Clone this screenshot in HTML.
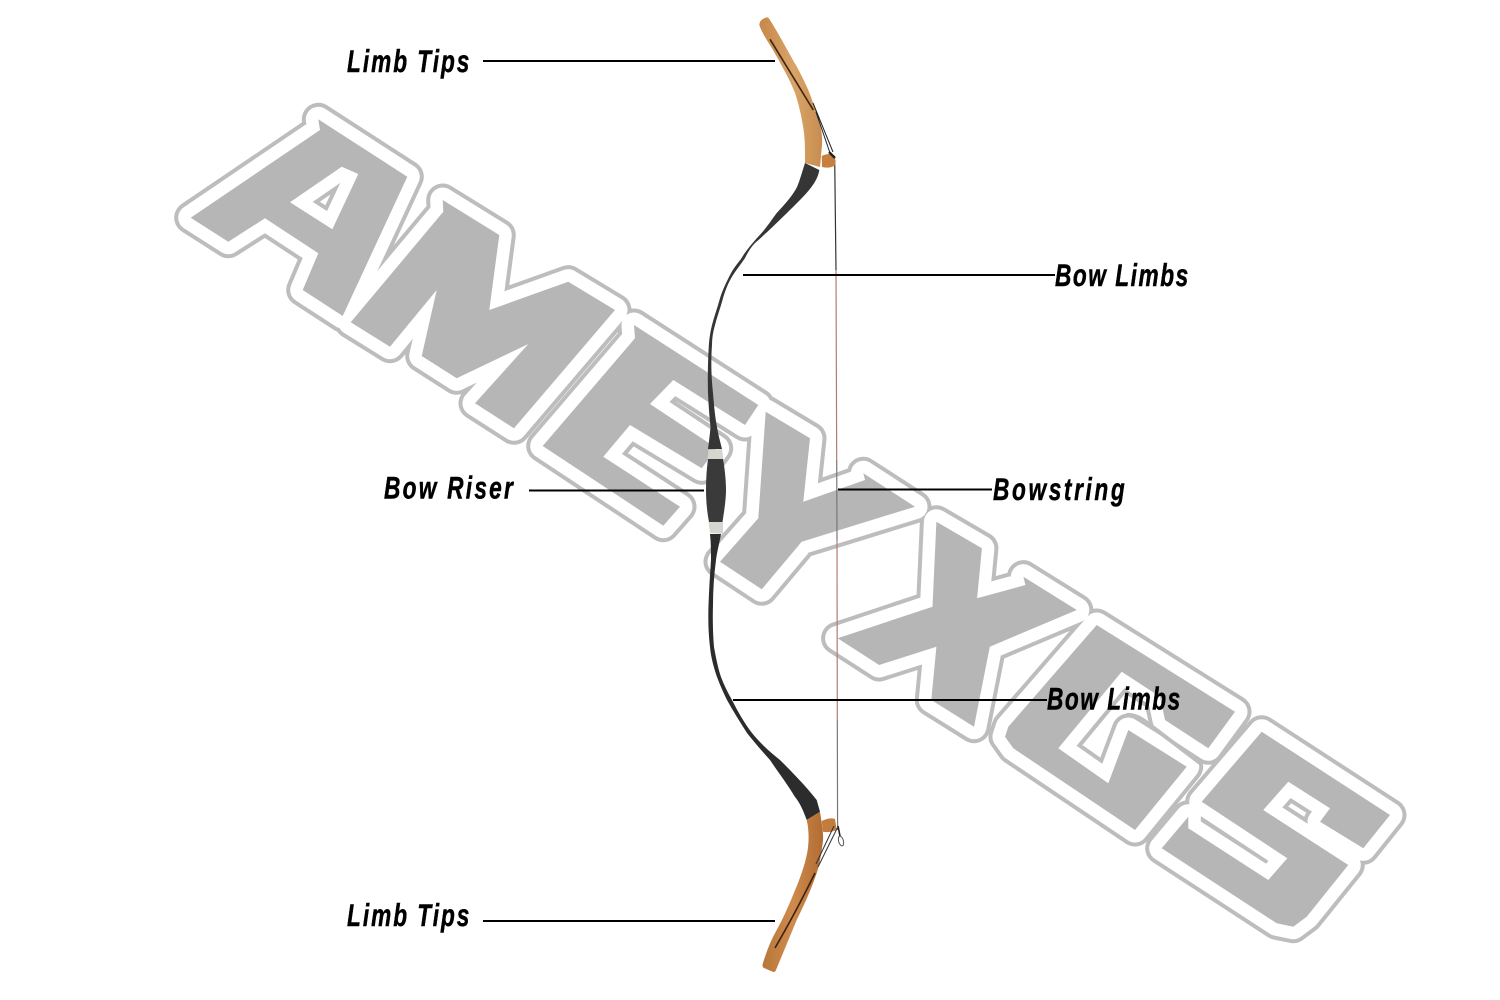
<!DOCTYPE html>
<html>
<head>
<meta charset="utf-8">
<style>
html,body{margin:0;padding:0;background:#fff;width:1500px;height:1000px;overflow:hidden}
svg{display:block}
text{font-family:"Liberation Sans",sans-serif;font-weight:bold;font-style:italic;font-size:31.5px;fill:#000;stroke:#000;stroke-width:.5}
</style>
</head>
<body>
<svg width="1500" height="1000" viewBox="0 0 1500 1000" xmlns="http://www.w3.org/2000/svg">
<defs>
<linearGradient id="woodT" x1="0" y1="0" x2="1" y2="0">
  <stop offset="0" stop-color="#c7874a"/><stop offset=".55" stop-color="#d8a468"/><stop offset="1" stop-color="#c98c50"/>
</linearGradient>
<linearGradient id="woodB" x1="0" y1="0" x2="1" y2="0">
  <stop offset="0" stop-color="#b8763a"/><stop offset=".5" stop-color="#cf8b4c"/><stop offset="1" stop-color="#b06c32"/>
</linearGradient>
<path id="wm" fill-rule="evenodd" d="
M190.7 217.7L320 130L318.3 119.3L407.3 176.7L342.7 316L302.7 290L318.3 253.3L265 218.3L228.3 241.7Z
M290 202.3L341.7 166.7L358.3 174L332.3 229.3Z
M350.7 322.3L443.3 211.7L442.7 200L499.3 235L489.3 310L568.3 281.7L615 310L514 428.3L475 403.3L528.3 344L456.7 378.3L421.7 356L436.7 290L390 346.7Z
M542.7 446L635 338.3L634 325L758.3 405L745 425L673.3 380L650 404L716.7 448.3L701.7 468.3L630 425L603.3 456.7L680 506.7L663.3 525.7Z
M765.7 411.7L810 438.3L803.3 501.7L865 480L863.3 473.3L915 506.7L801.7 541.7L761.7 589.3L720 561.7L758.3 518.3Z
M936.4 521.7L981.9 548.3L977.1 598.3L1025.4 585L1023.4 576.7L1076.8 610L989.8 646.7L974 726.7L931.3 700L936.4 646.7L879.1 665L837.6 638.3L932.5 606.7Z
M1096.7 625L1235 711.7L1208.3 748.3L1165 720L1160 696.7L1121.7 671.7L1058.3 748.3L1108.3 783.3L1128.3 730L1186.7 766.7L1135 830L1013.3 748.3L1005 736.7L1008.3 726.7Z
M1261.7 731.7L1390 815L1363.3 848.3L1320 821.7L1330 808.3L1288.3 781.7L1263.3 810L1348.3 865L1306.7 916.7L1293.3 926.7L1276.7 923.3L1161.7 848.3L1188.3 816.7L1188.3 828.3L1268.3 880L1287.3 858.3L1201.7 801.7Z"/>
</defs>

<rect width="1500" height="1000" fill="#fff"/>

<!-- watermark -->
<use href="#wm" fill="none" stroke="#bdbdbd" stroke-width="33" stroke-linejoin="round"/>
<use href="#wm" fill="none" stroke="#ffffff" stroke-width="25" stroke-linejoin="round"/>
<use href="#wm" fill="#b6b6b6"/>
<path d="M1126.7 715Q1135 714 1146 722L1200 763" fill="none" stroke="#bdbdbd" stroke-width="4"/>

<!-- bowstring -->
<g fill="none" stroke-width="1.2">
  <path d="M834.7 160L836 270" stroke="#333"/>
  <path d="M836 270L836.7 460" stroke="#b27c72"/>
  <path d="M836.7 460L837 540" stroke="#777"/>
  <path d="M837 540L837.3 720" stroke="#b27c72"/>
  <path d="M837.3 720L837.6 830" stroke="#777"/>
</g>

<!-- upper tip -->
<path d="M821.7 156Q830 152 835 156L835.5 165Q830 169 822 167Z" fill="#c77e3e"/>
<path d="M759.3 25Q759.5 20 765 18Q768 16 770 20C780 36 790 55 797 67C805 82 810 93 813 103C819 118 823 132 822 145L820 167L805 163C805 150 805 142 804 133C802 118 799 105 795 93C790 80 782 66 773 50C768 42 762 33 759.3 25Z" fill="url(#woodT)"/>
<path d="M770 39.3Q790 72 813.3 110" stroke="#3a2412" stroke-width="1.6" fill="none"/>
<path d="M813 103L833 152M816 112L830 153" stroke="#222" stroke-width="1" fill="none"/>
<path d="M829 152L835 158" stroke="#222" stroke-width="2.4" fill="none"/>

<!-- limbs -->
<path fill="#353535" d="M805 163L819.3 170C818 180 810 190 800 200C790 210 770 230 755 243C751 247 748 252 745 258C741 264 737 269 733 275C728 283 725 291 722.5 300C720 309 717 317 715 325C713 332 712 338 712 345C711 358 711 375 713 393C714 405 715 417 717 427C718 434 720 441 722 449L708 449C709 441 710 434 710.5 427C709.5 417 708.5 405 708 393C707.5 375 708 358 709 343C709.5 337 710.5 331 712 325C714 317 717 309 719.5 300C722 291 726 283 730 275C733 269 737 264 741 259C745 252 750 246 757 238C765 230 770 222 776.7 213C786 203 793 195 797 187C800 180 802 172 805 163Z"/>
<path fill="#2c2c2c" d="M710 534L721 534C719 545 717 552 716 560C714 575 713 590 713 605C712.5 620 713 635 714 647C716 658 718 668 721 677C724 685 728 693 732 700C738 712 745 724 752 733C760 743 770 752 780 760C790 770 805 785 816.7 800L820 811.7L806.7 820C803 810 800 803 795 797C788 785 778 772 770 760C762 751 754 742 747 733C740 722 733 711 727 700C723 692 720 685 717 677C714 668 711 658 710 647C708.5 635 708 620 708.5 605C709 590 710 575 711 560C711 552 711 543 710 534Z"/>

<!-- riser -->
<path fill="#d4d6d0" d="M708.5 450L722 449L723.5 460L707.5 460Z"/>
<path fill="#3a3a3a" d="M708 459L723 459C725 470 726 482 726 490C726 500 724 512 722.5 522L709 522C707 512 706 500 706 490C706 480 706.5 470 708 459Z"/>
<path fill="#d4d6d0" d="M708.5 522L723 522L723 534L710 533Z"/>

<!-- lower tip -->
<path d="M821.7 821Q830 817 835 819L836.7 830Q830 833 823 831.7Z" fill="#c47c3e"/>
<path d="M806.7 820L820 811.7C822 825 824 835 822.7 843C821 855 820 863 816.7 873C811 890 804 905 796.7 920L776 970Q775 973 772 971.5L764 968Q762 967 762.7 964C767 950 771 940 776.7 930C785 915 791 900 798 883C803 870 806 860 807.7 850C809 840 809 830 806.7 820Z" fill="url(#woodB)"/>
<path d="M815 873Q797 910 775 948" stroke="#3a2210" stroke-width="1.6" fill="none"/>
<path d="M837.3 828L818 867M834 826L816 864" stroke="#333" stroke-width="1" fill="none"/>
<ellipse cx="841" cy="841" rx="2.4" ry="5" fill="none" stroke="#555" stroke-width="1" transform="rotate(-15 841 841)"/>
<path d="M838 826L840 836" stroke="#222" stroke-width="1.6" fill="none"/>

<!-- leader lines -->
<g stroke="#000" stroke-width="2" fill="none">
  <path d="M483 61H775"/>
  <path d="M743 275H1055"/>
  <path d="M529 490.5H704"/>
  <path d="M838 489.5H992"/>
  <path d="M733 700H1047"/>
  <path d="M483 921H775"/>
</g>

<!-- labels -->
<text transform="translate(347,72) scale(.72,1)" textLength="170" lengthAdjust="spacing">Limb Tips</text>
<text transform="translate(1055,286) scale(.72,1)" textLength="185" lengthAdjust="spacing">Bow Limbs</text>
<text transform="translate(384,498.5) scale(.72,1)" textLength="179" lengthAdjust="spacing">Bow Riser</text>
<text transform="translate(993,500) scale(.72,1)" textLength="183" lengthAdjust="spacing">Bowstring</text>
<text transform="translate(1047,709.5) scale(.72,1)" textLength="185" lengthAdjust="spacing">Bow Limbs</text>
<text transform="translate(347,926) scale(.72,1)" textLength="170" lengthAdjust="spacing">Limb Tips</text>
</svg>
</body>
</html>
